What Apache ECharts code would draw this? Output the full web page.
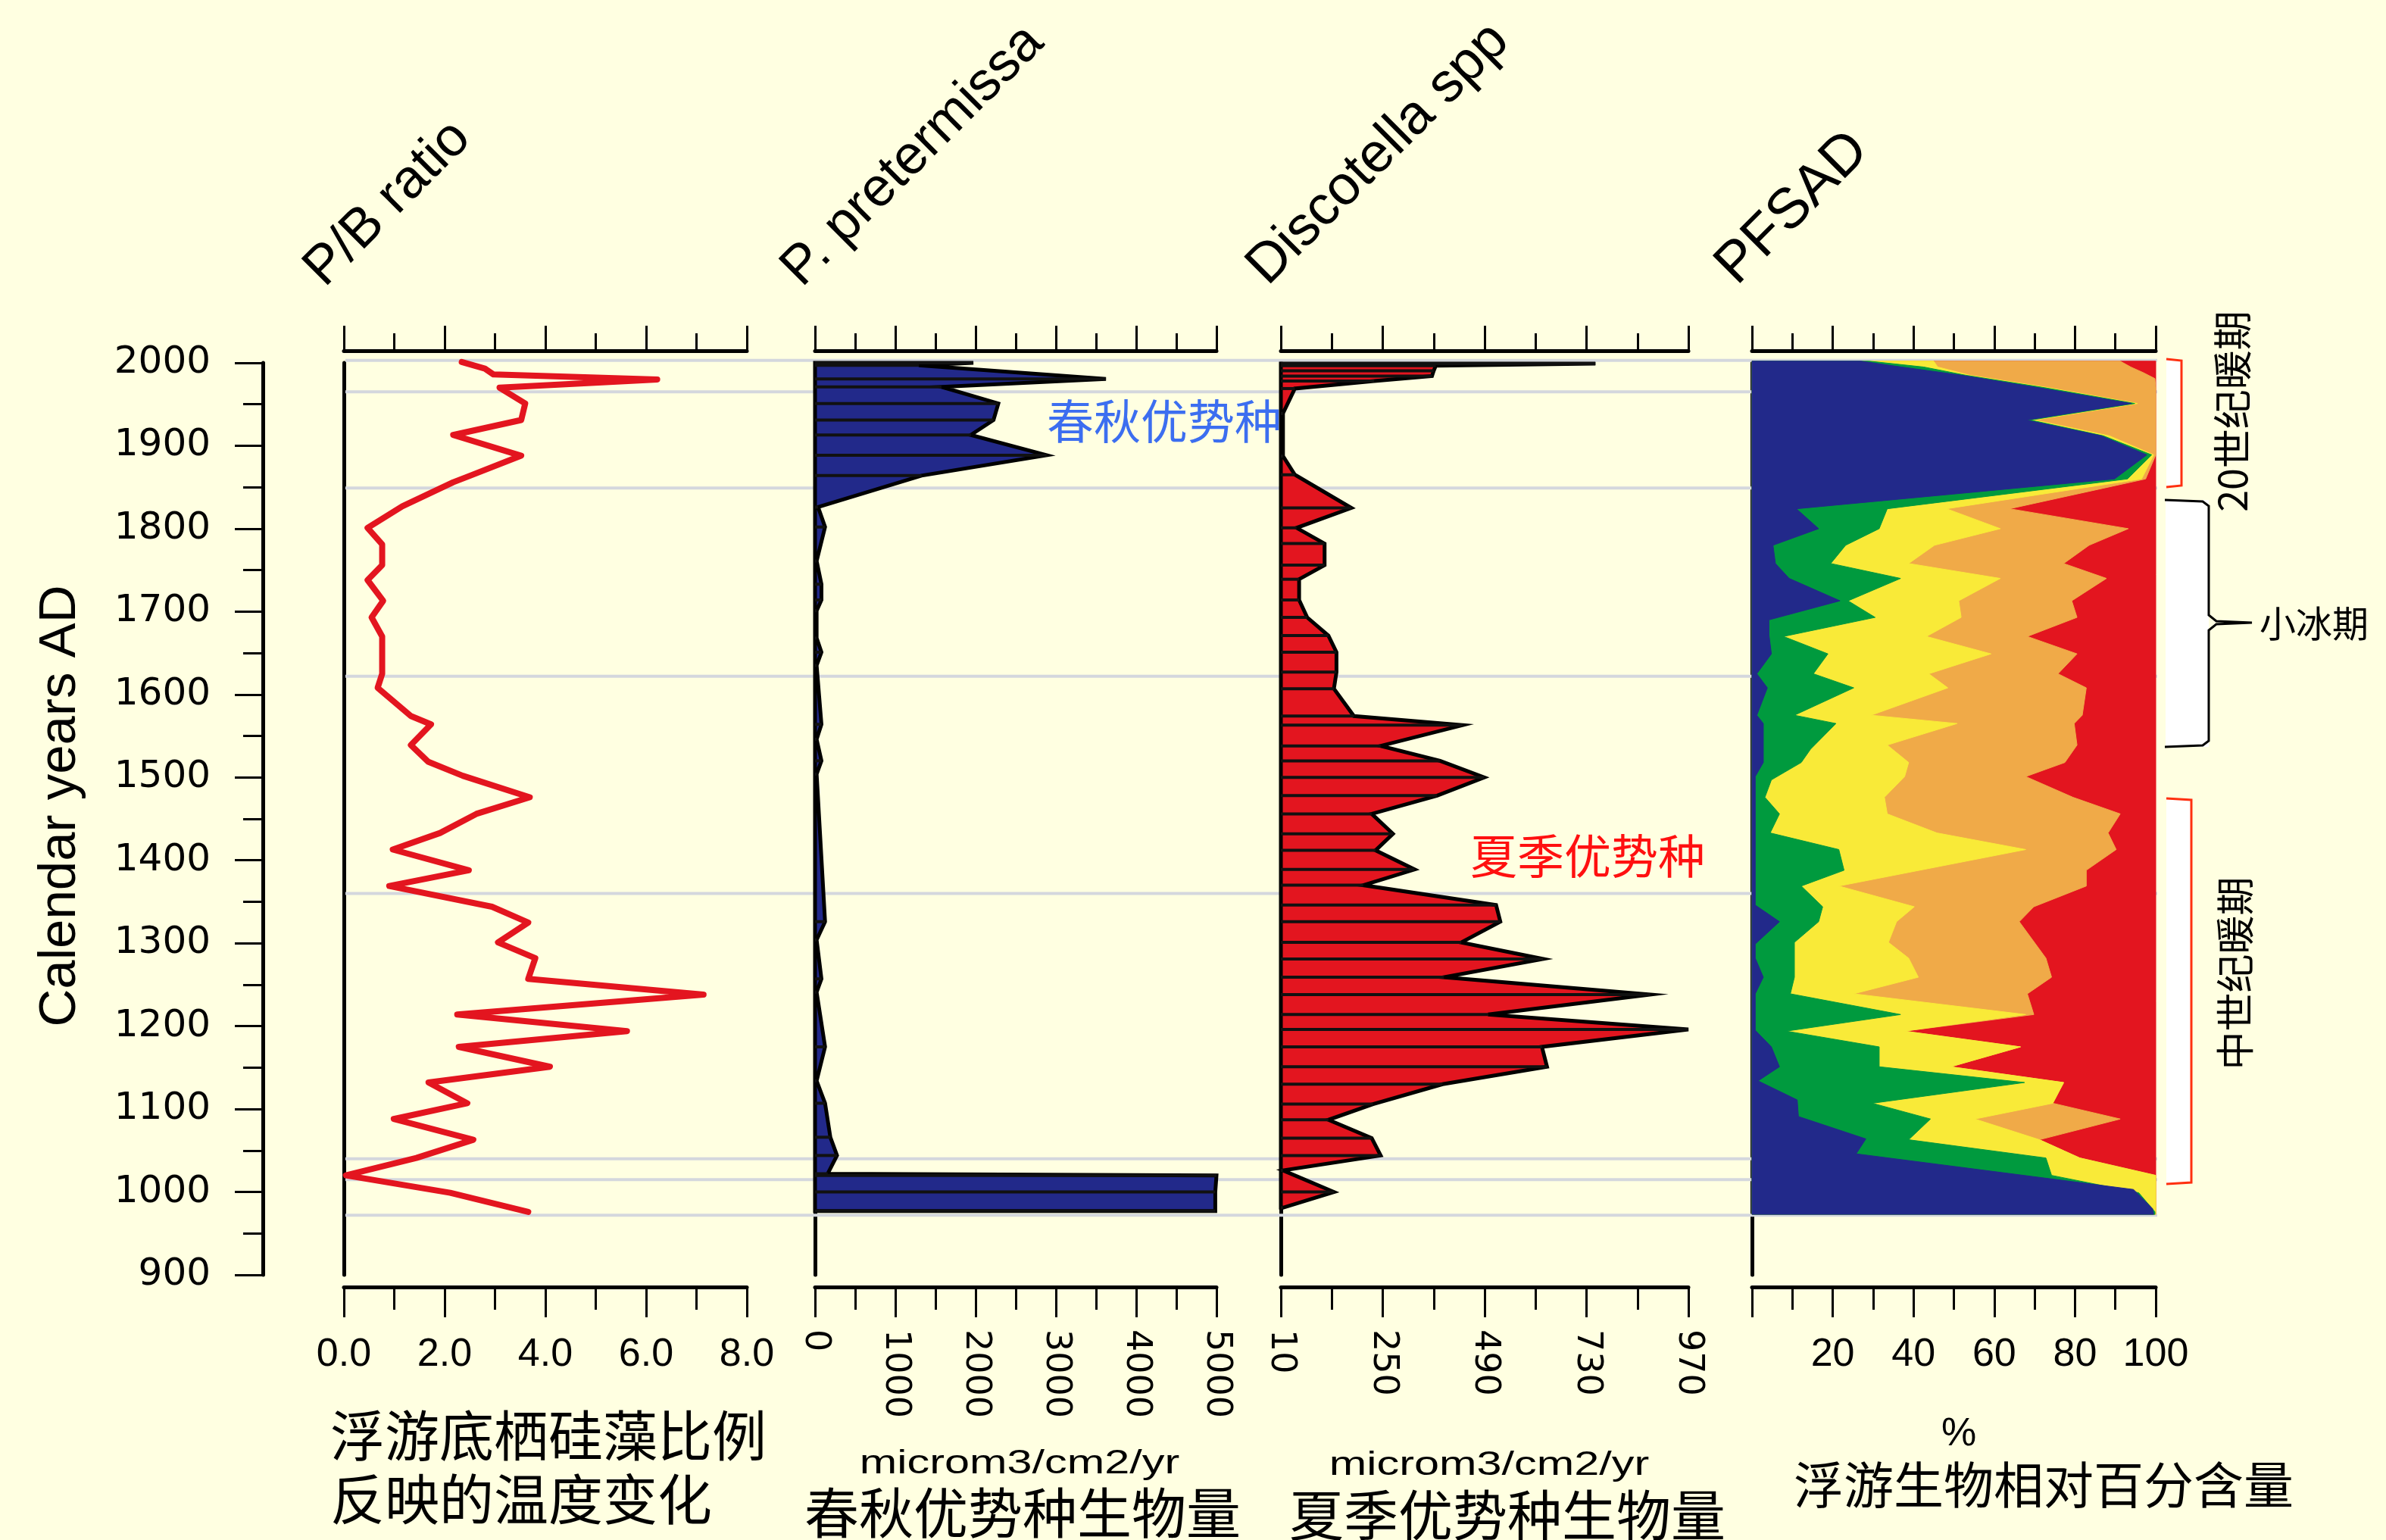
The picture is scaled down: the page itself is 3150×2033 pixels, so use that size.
<!DOCTYPE html>
<html>
<head>
<meta charset="utf-8">
<script src="https://cdn.jsdelivr.net/npm/echarts@6/dist/echarts.min.js"></script>
<style>
html,body{margin:0;padding:0;background:#FFFFE1;}
#c{width:3150px;height:2033px;}
</style>
</head>
<body>
<div id="c"></div>
<script>
// ---------------- DATA ----------------
const yearAxisMin = 900, yearAxisMax = 2000, yearAxisStep = 100;

// P/B ratio
const pbYears  = [2001,1993,1986,1980,1970,1951,1931,1913,1888,1864,1856,1827,1801,1781,1756,1738,1713,1693,1670,1625,1608,1574,1564,1539,1519,1502,1476,1456,1433,1413,1388,1369,1344,1325,1301,1282,1257,1238,1214,1194,1175,1151,1132,1107,1088,1063,1041,1020,999,976];
const pbValues = [2.34,2.80,2.97,6.22,3.09,3.60,3.52,2.17,3.52,2.51,2.17,1.16,0.47,0.76,0.76,0.47,0.78,0.55,0.76,0.76,0.67,1.33,1.73,1.33,1.67,2.36,3.69,2.63,1.91,0.97,2.48,0.90,2.94,3.66,3.06,3.80,3.66,7.14,2.25,5.62,2.28,4.09,1.68,2.45,0.99,2.57,1.44,0.04,2.11,3.66];

// P. pretermissa (microm3/cm2/yr)
const ppYears  = [2000,1997,1980.5,1971,1951,1931,1913,1888.6,1864,1826,1802,1761,1733,1714,1701,1668,1651,1635,1564,1546,1520,1504,1326,1304,1257,1241,1175,1134,1107,1066,1044,1022,1020,1000,977];
const ppValues = [1972,1293,3623,1575,2283,2223,1940,2884,1327,38,125,20,80,80,20,20,80,20,80,20,80,20,125,20,80,20,125,20,125,191,274,158,5000,4985,4985];

// Discotella spp (microm3/cm2/yr)
const dcYears  = [1999,1996.5,1990.4,1984,1978,1969,1939,1887.5,1865,1825,1801,1782,1756,1739,1714,1693,1671,1651,1627,1607,1574,1563,1538,1520,1500,1478,1456,1432,1412,1389,1370,1346,1326,1301,1281,1259,1238,1214,1196,1175,1151,1130,1106,1087,1065,1044,1026,1000,981];
const dcValues = [751,375,370,366,230,43,15,15,43,176,47,113,113,53,53,72,122,141,141,135,182,438,245,385,489,378,224,274,233,325,204,517,527,435,628,394,880,498,970,625,637,391,227,122,224,245,15,135,15];

// PFSAD cumulative percentage edges (left to right: navy | green | yellow | orange | red)
const pfNavyYears  = [2002,1995,1985,1970,1951,1931,1912,1889,1860,1824,1800,1780,1758,1740,1713,1690,1672,1649,1625,1608,1575,1565,1518,1501,1346,1326,1299,1282,1259,1239,1195,1175,1151,1134,1111,1091,1064,1046,1003,980,973];
const pfNavyEdge   = [27,37,52,71,94,68,86.5,97.8,89.8,11,16.5,5.2,5.8,9.2,21.8,4.2,4.2,4.8,1.2,3.8,1.2,2.8,2.8,0.8,0.8,6.8,0.8,0.8,2.8,0.8,0.8,4.8,6.8,1.5,11.2,11.5,28.2,25.8,94.5,99.2,99.5];
const pfGreenYears = [2002,1995,1985,1970,1951,1931,1912,1889,1860,1824,1800,1780,1758,1740,1713,1693,1670,1649,1625,1608,1575,1565,1534,1518,1497,1476,1456,1433,1413,1388,1369,1344,1326,1301,1259,1239,1214,1194,1175,1151,1132,1107,1088,1063,1041,1020,999,976,973];
const pfGreenEdge  = [29,42.5,53,72.5,94.8,69,87,99,93,33.5,31.5,23.2,19.5,36.8,23.8,30.5,7.8,18.8,15.2,25.2,10.5,20.8,14.5,12.2,4.8,3.2,6.8,4.5,21.5,22.8,12.2,17.5,16.5,10.5,10.5,9.5,36.8,8.5,31.5,31.5,67.5,29.8,44.2,38.8,72.8,74.2,95.8,99.8,99.8];
const pfYellowYears= [2002,1995,1985,1970,1951,1931,1912,1889,1860,1824,1800,1780,1758,1740,1713,1693,1670,1649,1625,1608,1575,1565,1539,1518,1501,1476,1456,1433,1413,1369,1344,1326,1301,1282,1259,1239,1214,1194,1175,1151,1132,1107,1088,1063,1041,1020,973];
const pfYellowEdge = [45,46,54,73.5,95.5,70,88.5,99.5,96.5,48.2,61.5,45.2,38.8,61.5,51.2,51.8,43.2,59.2,43.8,48.5,29.5,50.8,33.5,38.8,37.8,32.8,33.5,45.8,67.8,21.5,40.2,35.8,33.8,38.8,41.2,25.2,67.8,37.8,66.5,49.2,77.2,74.5,55.2,71.2,81.2,100,100];
const pfOrangeYears= [2002,1995,1988,1981,1970,1889,1860,1824,1800,1780,1758,1740,1713,1693,1670,1649,1625,1608,1575,1565,1539,1518,1501,1476,1456,1433,1413,1388,1369,1344,1326,1282,1259,1239,1214,1194,1175,1151,1132,1107,1088,1063,1041,1020,973];
const pfOrangeEdge = [91.2,93.8,97,99.8,100,100,97.5,63.8,93.2,83.5,77.2,87.8,79.2,80.5,68.2,80.5,75.8,82.8,81.8,79.8,80.5,77.5,67.8,79.5,91.2,88.2,90.2,82.8,82.8,69.8,66.2,72.8,74.2,68.2,69.8,37.8,66.5,49.2,77.2,74.5,91.2,71.2,81.2,100,100];
const pfRedYears   = [2002,973];
const pfRedEdge    = [100,100];

// Zone boundary years (grey horizontal lines)
const zoneYears = [2003,1965,1849,1622,1360,1040,1015,972];

// Axis tick settings (values)
const pbAxis = {min:0, max:8, interval:2};
const ppAxis = {min:0, max:5000, interval:1000};
const dcAxis = {min:10, max:970, interval:240};
const pfAxis = {min:0, max:100, interval:20};

// ---------------- LAYOUT / STYLE ----------------
const L = {top:479, height:1204,
  panels:[{left:454,width:532},{left:1076,width:530},{left:1691,width:538},{left:2313,width:533}],
  overlay:{left:456,width:2392}};
const C = {bg:'#FFFFE1', red:'#E3151F', navy:'#22298A', green:'#009A3E', yellow:'#F9EA38', orange:'#F0AA48', grid:'#D4D7DD'};
const SANS = '"Liberation Sans", Arial, sans-serif';
const WIDE = '"DejaVu Sans", sans-serif';
const CJK = '"Noto Sans CJK SC", sans-serif';
const plain = v => String(v);

const chart = echarts.init(document.getElementById('c'), null, {renderer:'canvas', width:3150, height:2033});

const grids = L.panels.map(p => ({left:p.left, width:p.width, top:L.top, height:L.height, outerBoundsMode:'none', containLabel:false}));
grids.push({left:L.overlay.left, width:L.overlay.width, top:L.top, height:L.height, outerBoundsMode:'none', containLabel:false});

function bottomAxis(g, ax, label) {
  return Object.assign({type:'value', gridIndex:g, position:'bottom', offset:16,
    axisLine:{show:true, onZero:false, lineStyle:{color:'#000', width:5}},
    axisTick:{show:true, inside:false, length:40, lineStyle:{color:'#000', width:3}},
    minorTick:{show:true, splitNumber:2, length:30, lineStyle:{color:'#000', width:3}},
    splitLine:{show:false}, minorSplitLine:{show:false},
    axisLabel:Object.assign({show:true, color:'#000', hideOverlap:false, formatter:plain}, label)
  }, ax);
}
function topAxis(g, ax) {
  return Object.assign({type:'value', gridIndex:g, position:'top', offset:16,
    axisLine:{show:true, onZero:false, lineStyle:{color:'#000', width:5}},
    axisTick:{show:true, inside:false, length:33, lineStyle:{color:'#000', width:3}},
    minorTick:{show:true, splitNumber:2, length:23, lineStyle:{color:'#000', width:3}},
    splitLine:{show:false}, minorSplitLine:{show:false},
    axisLabel:{show:false}
  }, ax);
}
function spineAxis(g) {
  return {type:'value', gridIndex:g, position:'left', min:yearAxisMin, max:yearAxisMax,
    axisLine:{show:true, onZero:false, lineStyle:{color:'#000', width:5}},
    axisTick:{show:false}, axisLabel:{show:false}, splitLine:{show:false}};
}

const xAxes = [
  bottomAxis(0, pbAxis, {fontFamily:SANS, fontSize:52, margin:64, formatter:v=>v.toFixed(1)}),
  topAxis(0, pbAxis),
  bottomAxis(1, ppAxis, {fontFamily:WIDE, fontSize:46, rotate:-90, margin:56}),
  topAxis(1, ppAxis),
  bottomAxis(2, dcAxis, {fontFamily:WIDE, fontSize:46, rotate:-90, margin:56}),
  topAxis(2, dcAxis),
  bottomAxis(3, pfAxis, {fontFamily:SANS, fontSize:52, margin:64, formatter:v=>v===0?'':String(v)}),
  topAxis(3, pfAxis),
  {type:'value', gridIndex:4, min:0, max:1, show:false}
];
const yAxes = [
  spineAxis(0), spineAxis(1), spineAxis(2), spineAxis(3),
  {type:'value', gridIndex:4, min:yearAxisMin, max:yearAxisMax, show:false},
  {type:'value', gridIndex:0, position:'left', offset:107, min:yearAxisMin, max:yearAxisMax, interval:yearAxisStep,
    axisLine:{show:true, onZero:false, lineStyle:{color:'#000', width:5}},
    axisTick:{show:true, inside:false, length:37, lineStyle:{color:'#000', width:3}},
    minorTick:{show:true, splitNumber:2, length:26, lineStyle:{color:'#000', width:3}},
    splitLine:{show:false}, minorSplitLine:{show:false},
    axisLabel:{show:true, color:'#000', fontFamily:WIDE, fontSize:50, margin:69, formatter:plain}}
];

function areaSeries(xi, yi, years, vals, base, fill, withBars, z) {
  return {
    type:'custom', xAxisIndex:xi, yAxisIndex:yi, z:z, clip:false, silent:true,
    data: vals.map((v,i)=>[v, years[i]]),
    encode:{x:0, y:1},
    renderItem:(params, api) => {
      const children = [];
      if (params.dataIndex === 0) {
        const pts = [api.coord([base, years[0]])];
        years.forEach((y,i)=>pts.push(api.coord([vals[i], y])));
        pts.push(api.coord([base, years[years.length-1]]));
        children.push({type:'polygon', z2:0, shape:{points:pts},
          style: withBars ? {fill:fill, stroke:'#000', lineWidth:5, lineJoin:'miter'} : {fill:fill, stroke:fill, lineWidth:1}});
      }
      if (withBars) {
        const a = api.coord([base, api.value(1)]), b = api.coord([api.value(0), api.value(1)]);
        children.push({type:'line', z2:1, shape:{x1:a[0], y1:a[1], x2:b[0], y2:b[1]}, style:{stroke:'#111', lineWidth:4}});
      }
      return children.length ? {type:'group', children:children} : null;
    }
  };
}

const series = [
  {type:'custom', xAxisIndex:8, yAxisIndex:4, z:1, clip:false, silent:true,
   data: zoneYears.map(y=>[0,y]), encode:{x:0,y:1},
   renderItem:(params, api) => {
     const a = api.coord([0, api.value(1)]), b = api.coord([1, api.value(1)]);
     return {type:'line', shape:{x1:a[0], y1:a[1], x2:b[0], y2:b[1]}, style:{stroke:C.grid, lineWidth:4}};
   }},
  {type:'line', xAxisIndex:0, yAxisIndex:0, z:5, clip:false, silent:true, symbol:'none',
   data: pbValues.map((v,i)=>[v, pbYears[i]]),
   lineStyle:{color:C.red, width:8, join:'round', cap:'round'}},
  areaSeries(2, 1, ppYears, ppValues, 0, C.navy, true, 4),
  areaSeries(4, 2, dcYears, dcValues, 10, C.red, true, 4),
  areaSeries(6, 3, pfRedYears, pfRedEdge, 0, C.red, false, 2),
  areaSeries(6, 3, pfOrangeYears, pfOrangeEdge, 0, C.orange, false, 3),
  areaSeries(6, 3, pfYellowYears, pfYellowEdge, 0, C.yellow, false, 4),
  areaSeries(6, 3, pfGreenYears, pfGreenEdge, 0, C.green, false, 5),
  areaSeries(6, 3, pfNavyYears, pfNavyEdge, 0, C.navy, false, 6)
];

function txt(o) {
  const s = Object.assign({fill:'#000'}, o.style);
  if (s.textAlign) s.align = s.textAlign;
  if (s.textVerticalAlign) s.verticalAlign = s.textVerticalAlign;
  return Object.assign({type:'text', silent:true}, o, {style:s});
}
const R45 = Math.PI/4;
const graphics = [
  // top titles
  txt({x:440, y:392, rotation:R45, style:{text:'P/B ratio', font:'72px '+SANS, textAlign:'left', textVerticalAlign:'bottom'}}),
  txt({x:1070, y:392, rotation:R45, style:{text:'P. pretermissa', font:'72px '+SANS, textAlign:'left', textVerticalAlign:'bottom'}}),
  txt({x:1685, y:390, rotation:R45, style:{text:'Discotella spp', font:'73px '+SANS, textAlign:'left', textVerticalAlign:'bottom'}}),
  txt({x:2305, y:390, rotation:R45, style:{text:'PFSAD', font:'75px '+SANS, textAlign:'left', textVerticalAlign:'bottom'}}),
  // y axis title
  txt({x:80, y:1064, rotation:Math.PI/2, style:{text:'Calendar years AD', font:'69px '+SANS, textAlign:'center', textVerticalAlign:'middle'}}),
  // bottom names
  txt({x:436, y:1895, style:{text:'浮游底栖硅藻比例', font:'72px '+CJK, textAlign:'left', textVerticalAlign:'middle'}}),
  txt({x:436, y:1979, style:{text:'反映的温度变化', font:'72px '+CJK, textAlign:'left', textVerticalAlign:'middle'}}),
  txt({x:1346, y:1933, scaleX:1.35, style:{text:'microm3/cm2/yr', font:'44px '+SANS, textAlign:'center', textVerticalAlign:'middle'}}),
  txt({x:1350, y:1997, style:{text:'春秋优势种生物量', font:'72px '+CJK, textAlign:'center', textVerticalAlign:'middle'}}),
  txt({x:1966, y:1935, scaleX:1.35, style:{text:'microm3/cm2/yr', font:'44px '+SANS, textAlign:'center', textVerticalAlign:'middle'}}),
  txt({x:1990, y:2000, style:{text:'夏季优势种生物量', font:'72px '+CJK, textAlign:'center', textVerticalAlign:'middle'}}),
  txt({x:2586, y:1894, style:{text:'%', font:'52px '+SANS, textAlign:'center', textVerticalAlign:'middle'}}),
  txt({x:2698, y:1960, style:{text:'浮游生物相对百分含量', font:'66px '+CJK, textAlign:'center', textVerticalAlign:'middle'}}),
  // in-panel notes
  txt({x:1382, y:556, style:{text:'春秋优势种', font:'62px '+CJK, fill:'#3C6EF0', textAlign:'left', textVerticalAlign:'middle'}}),
  txt({x:1941, y:1130, style:{text:'夏季优势种', font:'62px '+CJK, fill:'#FF1010', textAlign:'left', textVerticalAlign:'middle'}}),
  // right brackets
  {type:'rect', silent:true, shape:{x:2860, y:474, width:20, height:169}, style:{fill:'#FFFFFF'}},
  {type:'polyline', silent:true, shape:{points:[[2860,474],[2880,476],[2880,641],[2860,643]]}, style:{stroke:'#FF3010', lineWidth:3, fill:null}},
  {type:'rect', silent:true, shape:{x:2859, y:660, width:57, height:326}, style:{fill:'#FFFFFF'}},
  {type:'polyline', silent:true, shape:{points:[[2858,660],[2908,662],[2916,668],[2916,812],[2926,820],[2973,822],[2926,824],[2916,832],[2916,978],[2908,984],[2858,986]]}, style:{stroke:'#000', lineWidth:3, fill:null}},
  {type:'rect', silent:true, shape:{x:2860, y:1054, width:33, height:509}, style:{fill:'#FFFFFF'}},
  {type:'polyline', silent:true, shape:{points:[[2860,1054],[2893,1056],[2893,1561],[2860,1563]]}, style:{stroke:'#FF3010', lineWidth:3, fill:null}},
  txt({x:2947, y:543, rotation:Math.PI/2, style:{text:'20世纪暖期', font:'52px '+CJK, textAlign:'center', textVerticalAlign:'middle'}}),
  txt({x:2983, y:823, style:{text:'小冰期', font:'48px '+CJK, textAlign:'left', textVerticalAlign:'middle'}}),
  txt({x:2951, y:1285, rotation:Math.PI/2, style:{text:'中世纪暖期', font:'51px '+CJK, textAlign:'center', textVerticalAlign:'middle'}})
];

chart.setOption({
  backgroundColor: C.bg,
  animation:false,
  grid: grids,
  xAxis: xAxes,
  yAxis: yAxes,
  series: series,
  graphic: {elements: graphics}
});
</script>
</body>
</html>
